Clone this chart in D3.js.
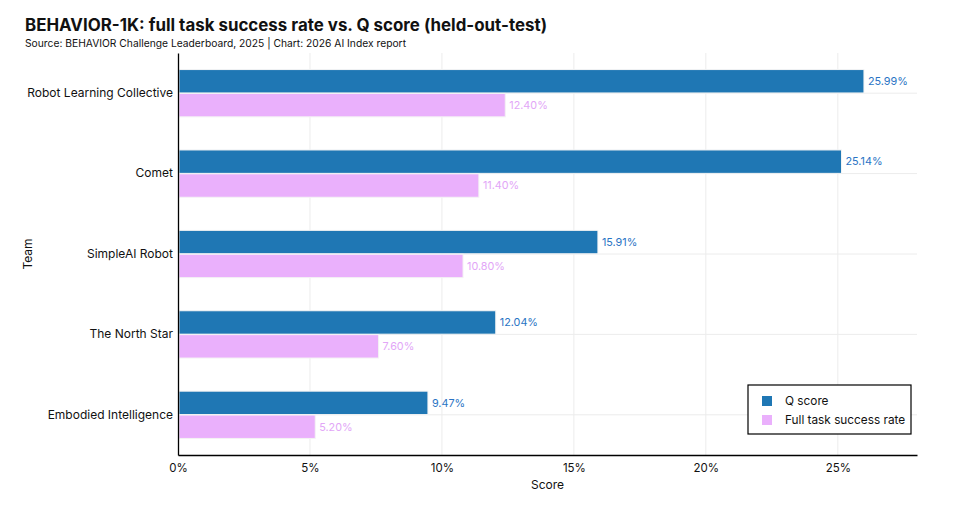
<!DOCTYPE html>
<html>
<head>
<meta charset="utf-8">
<script src="https://cdn.jsdelivr.net/npm/d3@7"></script>
<style>
  body { margin: 0; background: #fff; }
  svg { font-family: "Inter", "Noto Sans", sans-serif; }
</style>
</head>
<body>
<div id="chart"></div>
<script>
// Data
const teams = ["Robot Learning Collective", "Comet", "SimpleAI Robot", "The North Star", "Embodied Intelligence"];
const qScore = [25.99, 25.14, 15.91, 12.04, 9.47];
const fullSuccess = [12.40, 11.40, 10.80, 7.60, 5.20];
const seriesNames = ["Q score", "Full task success rate"];
const seriesColors = ["#1f77b4", "#eab0fc"];
const labelColors = ["#2a74c4", "#e2a6f7"];
const xTicks = [0, 5, 10, 15, 20, 25];

const width = 961, height = 522;
const margin = { top: 53, right: 44, bottom: 67, left: 178 };
const innerW = width - margin.left - margin.right;
const innerH = height - margin.top - margin.bottom;

const svg = d3.select("#chart").append("svg")
    .attr("width", width)
    .attr("height", height);

// Title and subtitle
svg.append("text")
    .attr("x", 25).attr("y", 31)
    .attr("font-size", 17).attr("font-weight", 700).attr("fill", "#111")
    .attr("textLength", 522).attr("lengthAdjust", "spacingAndGlyphs")
    .text("BEHAVIOR-1K: full task success rate vs. Q score (held-out-test)");
svg.append("text")
    .attr("x", 25).attr("y", 47)
    .attr("font-size", 10.5).attr("fill", "#111")
    .attr("textLength", 381).attr("lengthAdjust", "spacingAndGlyphs")
    .text("Source: BEHAVIOR Challenge Leaderboard, 2025 | Chart: 2026 AI Index report");

const g = svg.append("g").attr("transform", `translate(${margin.left},${margin.top})`);

const x = d3.scaleLinear().domain([0, 28]).range([0, innerW]);
const y = d3.scaleBand().domain(teams).range([0, innerH]).padding(0);
const inner = d3.scaleBand().domain(seriesNames).range([y.bandwidth() * 0.2, y.bandwidth() * 0.8]).padding(0.02);

// Gridlines
g.append("g").selectAll("line").data(xTicks.slice(1)).join("line")
    .attr("x1", d => x(d)).attr("x2", d => x(d))
    .attr("y1", 0).attr("y2", innerH)
    .attr("stroke", "#ececec").attr("stroke-width", 1);
g.append("g").selectAll("line").data(teams).join("line")
    .attr("x1", 0).attr("x2", innerW)
    .attr("y1", d => y(d) + y.bandwidth() / 2).attr("y2", d => y(d) + y.bandwidth() / 2)
    .attr("stroke", "#ececec").attr("stroke-width", 1);

// Bars
const rows = teams.map((t, i) => ({ team: t, values: [qScore[i], fullSuccess[i]] }));
const group = g.append("g").selectAll("g").data(rows).join("g")
    .attr("transform", d => `translate(0,${y(d.team)})`);

group.selectAll("rect").data(d => d.values.map((v, k) => ({ v, k }))).join("rect")
    .attr("x", x(0) + 1)
    .attr("y", d => inner(seriesNames[d.k]))
    .attr("width", d => x(d.v) - x(0) - 1)
    .attr("height", inner.bandwidth())
    .attr("fill", d => seriesColors[d.k])
    .attr("stroke", "#f4f4f4").attr("stroke-width", 1);

group.selectAll("text").data(d => d.values.map((v, k) => ({ v, k }))).join("text")
    .attr("x", d => x(d.v) + 4)
    .attr("y", d => inner(seriesNames[d.k]) + inner.bandwidth() / 2)
    .attr("dy", "0.35em")
    .attr("font-size", 10.8)
    .attr("fill", d => labelColors[d.k])
    .text(d => d.v.toFixed(2) + "%");

// Axes
const xAxis = g.append("g").attr("transform", `translate(0,${innerH})`)
    .call(d3.axisBottom(x).tickValues(xTicks).tickFormat(d => d + "%").tickSize(0).tickPadding(9));
xAxis.select(".domain").attr("stroke", "#000").attr("stroke-width", 1.3);
xAxis.selectAll("text").attr("font-size", 11.5).attr("fill", "#111").attr("font-family", "Inter, sans-serif");

const yAxis = g.append("g")
    .call(d3.axisLeft(y).tickSize(0).tickPadding(5));
yAxis.select(".domain").attr("stroke", "#000").attr("stroke-width", 1.3);
yAxis.selectAll("text").attr("font-size", 12).attr("fill", "#111").attr("font-family", "Inter, sans-serif");

// Axis titles
svg.append("text")
    .attr("x", margin.left + x(14)).attr("y", 489)
    .attr("text-anchor", "middle").attr("font-size", 12).attr("fill", "#111")
    .text("Score");
svg.append("text")
    .attr("transform", `translate(32,${margin.top + innerH / 2}) rotate(-90)`)
    .attr("text-anchor", "middle").attr("font-size", 12).attr("fill", "#111")
    .text("Team");

// Legend
const legend = svg.append("g").attr("transform", "translate(748,385)");
legend.append("rect")
    .attr("width", 163).attr("height", 49)
    .attr("fill", "#fff").attr("stroke", "#000").attr("stroke-width", 1.2);
const item = legend.selectAll("g").data(seriesNames).join("g")
    .attr("transform", (d, i) => `translate(14,${16 + i * 19})`);
item.append("rect")
    .attr("x", 0).attr("y", -5).attr("width", 10).attr("height", 10)
    .attr("fill", (d, i) => seriesColors[i]);
item.append("text")
    .attr("x", 23).attr("dy", "0.35em")
    .attr("font-size", 11.8).attr("fill", "#111")
    .text(d => d);
</script>
</body>
</html>
